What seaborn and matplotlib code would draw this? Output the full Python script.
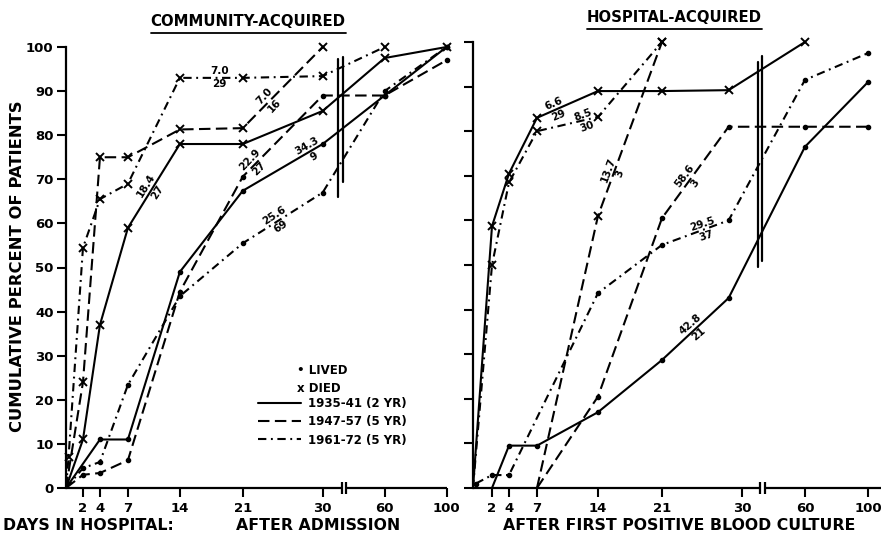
import numpy as np
import pandas as pd
import matplotlib
matplotlib.use("Agg")
import matplotlib.pyplot as plt
import seaborn as sns
from matplotlib.lines import Line2D

# ---------------- data ----------------
DAY_TICKS = [2, 4, 7, 14, 21, 30, 60, 100]
DAY_TICK_LABELS = ["2", "4", "7", "14", "21", "30", "60", "100"]
PCT_TICKS = [0, 10, 20, 30, 40, 50, 60, 70, 80, 90, 100]
PCT_TICK_LABELS = ["0", "10", "20", "30", "40", "50", "60", "70", "80", "90", "100"]

PERIODS = ["1935-41 (2 YR)", "1947-57 (5 YR)", "1961-72 (5 YR)"]

# Community-acquired
ca_1935_died_days = [0, 2, 4, 7, 14, 21, 30, 60, 100]
ca_1935_died_pct = [0, 11, 37, 59, 78, 78, 85.5, 97.5, 100]
ca_1935_lived_days = [0, 4, 7, 14, 21, 30, 60, 100]
ca_1935_lived_pct = [0, 11, 11, 49, 67.4, 78, 89, 100]
ca_1947_died_days = [0, 2, 4, 7, 14, 21, 30]
ca_1947_died_pct = [0, 24, 75, 75, 81.3, 81.6, 100]
ca_1947_lived_days = [0, 2, 4, 7, 14, 21, 30, 60, 100]
ca_1947_lived_pct = [0, 3, 3.4, 6.3, 44.5, 70.6, 89, 89, 97]
ca_1961_died_days = [0, 0.3, 2, 4, 7, 14, 21, 30, 60]
ca_1961_died_pct = [0, 7, 54.5, 65.5, 69, 93, 93, 93.4, 100]
ca_1961_lived_days = [0, 2, 4, 7, 14, 21, 30, 60, 100]
ca_1961_lived_pct = [0, 4.5, 5.9, 23.4, 43.5, 55.5, 67, 90, 100]

# Hospital-acquired
ha_1935_died_days = [0, 2, 4, 7, 14, 21, 28.5, 60]
ha_1935_died_pct = [0, 58.7, 70.5, 83, 89, 89, 89.2, 100]
ha_1935_lived_days = [2, 4, 7, 14, 21, 28.5, 60, 100]
ha_1935_lived_pct = [0, 9.5, 9.5, 17, 28.7, 42.6, 76.5, 91]
ha_1947_died_days = [7, 14, 21]
ha_1947_died_pct = [0, 61, 100]
ha_1947_lived_days = [7, 14, 21, 28.5, 60, 100]
ha_1947_lived_pct = [0, 20.5, 60.5, 81, 81, 81]
ha_1961_died_days = [0, 2, 4, 7, 14, 21]
ha_1961_died_pct = [0, 50, 68.5, 80, 83.2, 100]
ha_1961_lived_days = [0.3, 2, 4, 14, 21, 28.5, 60, 100]
ha_1961_lived_pct = [1, 2.9, 2.9, 43.7, 54.5, 60, 91.5, 97.5]

# Segment annotations (mean days / number of patients)
ca_notes_text = ["7.0\n29", "7.0\n16", "18.4\n27", "22.9\n27", "34.3\n9", "25.6\n69"]
ca_notes_day = [18.4, 24.0, 10.2, 22.35, 28.65, 24.9]
ca_notes_pct = [93.0, 87.8, 67.8, 73.4, 76.4, 60.6]
ha_notes_text = ["6.6\n29", "8.5\n30", "13.7\n3", "58.6\n3", "29.5\n37", "42.8\n21"]
ha_notes_day = [9.2, 12.5, 15.75, 24.15, 25.8, 24.7]
ha_notes_pct = [84.8, 82.3, 70.9, 69.1, 57.8, 35.6]

# ---------------- layout / style ----------------
sns.set_style("ticks")
plt.rcParams["font.family"] = ["DejaVu Sans"]
plt.rcParams["font.weight"] = "bold"
for key in ("text.color", "axes.labelcolor", "xtick.color", "ytick.color",
            "axes.edgecolor"):
    plt.rcParams[key] = "black"

STYLES = {
    "1935-41 (2 YR)": "-",
    "1947-57 (5 YR)": (0, (5.5, 2.6)),
    "1961-72 (5 YR)": (0, (4, 2.2, 0.9, 2.2)),
}
LW = 1.5

# hand-drawn day axis spacing (knots of the day -> axis position scale)
KNOT_DAYS = [-100, 0, 2, 4, 7, 14, 21, 30, 60, 100, 1000]
LEFT_U = [-850, 0, 17, 34, 62, 114, 177, 257, 319, 381, 381 + 900 * 62 / 40]
RIGHT_U = [-950, 0, 19, 36, 64, 125, 189, 269, 332, 395, 395 + 900 * 63 / 40]


def make_scale(u):
    kd = np.array(KNOT_DAYS, float)
    ku = np.array(u, float)

    def fwd(x):
        return np.interp(x, kd, ku)

    def inv(v):
        return np.interp(v, ku, kd)

    return fwd, inv


W, H = 881, 539
fig = plt.figure(figsize=(W / 100, H / 100), dpi=100)
axL = fig.add_axes([66 / W, (H - 488) / H, 381 / W, 441 / H])
axR = fig.add_axes([473 / W, (H - 488) / H, 408 / W, 446 / H])


def draw_series(ax, days, pct, period, outcome):
    df = pd.DataFrame({"day": days, "pct": pct})
    mk = "x" if outcome == "died" else "o"
    ms = 5.2 if outcome == "died" else 2.6
    every = [i for i, v in enumerate(pct) if v > 0]
    sns.lineplot(data=df, x="day", y="pct", ax=ax, color="k", linestyle=STYLES[period],
                 lw=LW, marker=mk, markersize=ms, markeredgecolor="k",
                 markerfacecolor="k", markeredgewidth=1.4, markevery=every,
                 sort=False, estimator=None, errorbar=None, clip_on=False)


draw_series(axL, ca_1935_died_days, ca_1935_died_pct, PERIODS[0], "died")
draw_series(axL, ca_1935_lived_days, ca_1935_lived_pct, PERIODS[0], "lived")
draw_series(axL, ca_1947_died_days, ca_1947_died_pct, PERIODS[1], "died")
draw_series(axL, ca_1947_lived_days, ca_1947_lived_pct, PERIODS[1], "lived")
draw_series(axL, ca_1961_died_days, ca_1961_died_pct, PERIODS[2], "died")
draw_series(axL, ca_1961_lived_days, ca_1961_lived_pct, PERIODS[2], "lived")

draw_series(axR, ha_1935_died_days, ha_1935_died_pct, PERIODS[0], "died")
draw_series(axR, ha_1935_lived_days, ha_1935_lived_pct, PERIODS[0], "lived")
draw_series(axR, ha_1947_died_days, ha_1947_died_pct, PERIODS[1], "died")
draw_series(axR, ha_1947_lived_days, ha_1947_lived_pct, PERIODS[1], "lived")
draw_series(axR, ha_1961_died_days, ha_1961_died_pct, PERIODS[2], "died")
draw_series(axR, ha_1961_lived_days, ha_1961_lived_pct, PERIODS[2], "lived")

axL.set_xscale("function", functions=make_scale(LEFT_U))
axR.set_xscale("function", functions=make_scale(RIGHT_U))
axL.set_xlim(0, 100.3)
axR.set_xlim(0, 108.3)

for ax in (axL, axR):
    ax.set_ylim(0, 100)
    ax.set_xlabel("")
    ax.set_ylabel("")
    ax.set_xticks(DAY_TICKS)
    ax.set_xticklabels(DAY_TICK_LABELS)
    ax.set_yticks(PCT_TICKS)
    ax.set_yticklabels(PCT_TICK_LABELS)
    ax.minorticks_off()
    for s in ("top", "right", "bottom"):
        ax.spines[s].set_visible(False)
    ax.spines["left"].set_linewidth(1.6)
    ax.spines["left"].set_color("k")
    ax.tick_params(axis="both", direction="out", length=6.5, width=1.5, color="k",
                   labelcolor="k", labelsize=9.5, pad=2.5)
    ax.tick_params(axis="x", pad=3.5)
    for lab in ax.get_xticklabels() + ax.get_yticklabels():
        lab.set_fontweight("bold")
    ax.patch.set_alpha(0)
axR.tick_params(axis="y", labelleft=False)

# broken bottom axis and break markers
def axis_with_break(ax, b1, b2, xmax, v1, v2):
    kw = dict(color="k", lw=1.6, clip_on=False, solid_capstyle="butt")
    ax.plot([0, b1], [0, 0], **kw)
    ax.plot([b2, xmax], [0, 0], **kw)
    ax.plot([b1, b1], [-1.4, 1.4], **kw)
    ax.plot([b2, b2], [-1.4, 1.4], **kw)
    ax.plot([v1[0], v1[0]], [v1[1], v1[2]], color="k", lw=1.6, clip_on=False)
    ax.plot([v2[0], v2[0]], [v2[1], v2[2]], color="k", lw=1.6, clip_on=False)

axis_with_break(axL, 39.2, 41.1, 100.3, (37.4, 66.0, 97.3), (39.6, 69.5, 97.7))
axis_with_break(axR, 38.6, 41.0, 108.3, (37.6, 49.5, 95.5), (39.4, 51.0, 96.8))

# segment annotations
ca_rot = [0, 47, 58, 46, 30, 33]
ha_rot = [23, 20, 70, 53, 18, 41]
for t, d, p, r in zip(ca_notes_text, ca_notes_day, ca_notes_pct, ca_rot):
    axL.text(d, p, t, rotation=r, rotation_mode="anchor", ha="center", va="center",
             multialignment="center", fontsize=7.5, fontweight="bold", linespacing=1.35)
for t, d, p, r in zip(ha_notes_text, ha_notes_day, ha_notes_pct, ha_rot):
    axR.text(d, p, t, rotation=r, rotation_mode="anchor", ha="center", va="center",
             multialignment="center", fontsize=7.5, fontweight="bold", linespacing=1.35)

# legend
fig.text(297 / W, 1 - 371 / H, "\u2022 LIVED", fontsize=8.5, fontweight="bold",
         ha="left", va="center")
fig.text(297 / W, 1 - 388 / H, "x DIED", fontsize=8.5, fontweight="bold",
         ha="left", va="center")
handles = [Line2D([], [], color="k", lw=LW, linestyle=STYLES[p]) for p in PERIODS]
fig.legend(handles, PERIODS, loc="upper left", bbox_to_anchor=(258 / W, 1 - 397 / H),
           bbox_transform=fig.transFigure, frameon=False,
           prop={"weight": "bold", "size": 8.5}, handlelength=3.6, handletextpad=0.6,
           labelspacing=0.45, borderpad=0, borderaxespad=0)

# titles with underline
titles = [("COMMUNITY-ACQUIRED", 248, 22), ("HOSPITAL-ACQUIRED", 674, 18)]
title_objs = []
for txt, cx, cy in titles:
    title_objs.append(fig.text(cx / W, 1 - cy / H, txt, fontsize=10.7, fontweight="bold",
                               ha="center", va="center"))

fig.text(18 / W, 1 - 266 / H, "CUMULATIVE PERCENT OF PATIENTS", rotation=90,
         fontsize=11.8, fontweight="bold", ha="center", va="center")
fig.text(3 / W, 1 - 526 / H, "DAYS IN HOSPITAL:", fontsize=11.3, fontweight="bold",
         ha="left", va="center")
fig.text(318 / W, 1 - 526 / H, "AFTER ADMISSION", fontsize=11.3, fontweight="bold",
         ha="center", va="center")
fig.text(679 / W, 1 - 526 / H, "AFTER FIRST POSITIVE BLOOD CULTURE", fontsize=11.3,
         fontweight="bold", ha="center", va="center")

fig.canvas.draw()
r = fig.canvas.get_renderer()
for t in title_objs:
    bb = t.get_window_extent(r)
    yy = bb.y0 - 3
    fig.add_artist(Line2D([bb.x0 / W, bb.x1 / W], [yy / H, yy / H], color="k", lw=1.3,
                          transform=fig.transFigure))

fig.savefig("out.png", dpi=100)
